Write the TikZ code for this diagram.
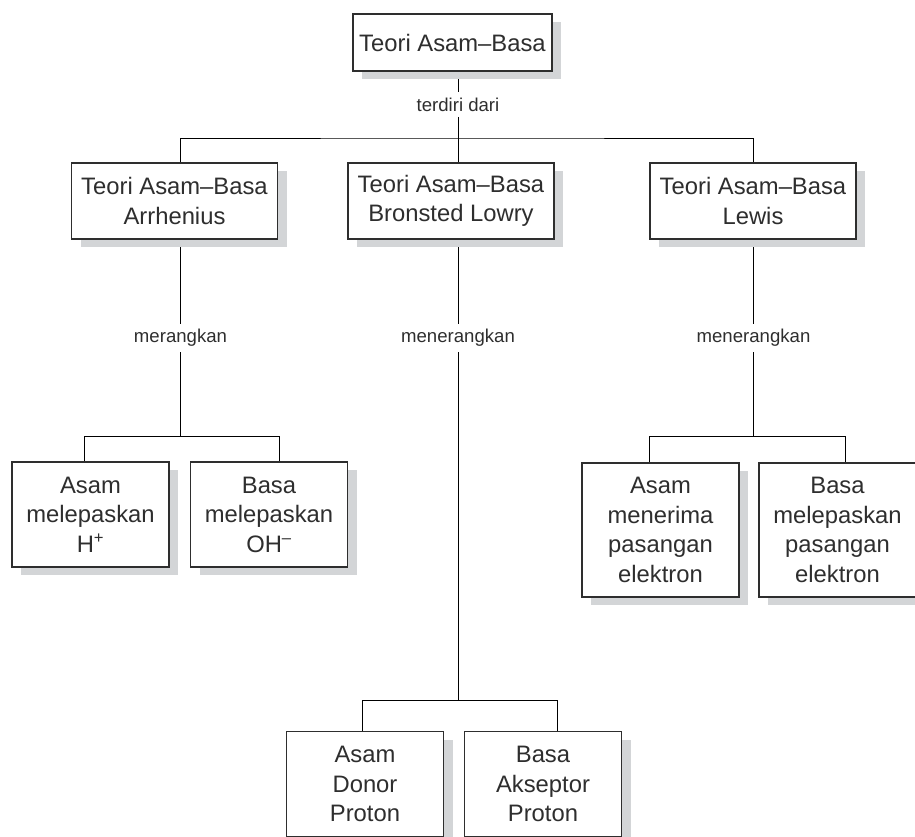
\documentclass[tikz,border=0pt]{standalone}
\usepackage{fontspec}
\setmainfont{Liberation Sans}
\usepackage{tikz}
\usetikzlibrary{shadows,backgrounds}

\definecolor{inkgray}{HTML}{2E2E2E}
\definecolor{shadegray}{HTML}{D3D5D7}
\newcommand\boxfont{\fontsize{23.8}{29.5}\selectfont}
\newcommand\linkfont{\fontsize{18.6}{22}\selectfont}

\begin{document}
\begin{tikzpicture}[x=1pt,y=-1pt,color=inkgray,line width=1.2pt,
    theory/.style={draw, fill=white, align=center, font=\boxfont, inner sep=0pt,
      drop shadow={shadow xshift=9pt, shadow yshift=-8pt, fill=shadegray, opacity=1}},
    topbox/.style={theory, minimum width=199pt, minimum height=57pt},
    midbox/.style={theory, minimum width=206pt, minimum height=76pt},
    leafbox/.style={theory, minimum width=157pt, minimum height=105pt},
    tallbox/.style={theory, minimum width=157pt, minimum height=134pt},
    linkword/.style={font=\linkfont, inner sep=5pt}]
    \useasboundingbox (0,0) rectangle (915,837);

    % ---- Root ----
    \node[topbox] (top) at (452.5,42.5) {Teori Asam--Basa};
    \node[linkword] (lbTop) at (458,104.5) {terdiri dari};
    \coordinate (hubTop) at (458,138);

    % ---- Three theories ----
    \node[midbox] (arr) at (174.5,201) {Teori Asam--Basa\\Arrhenius};
    \node[midbox] (bl) at (451,201) {Teori Asam--Basa\\Bronsted Lowry};
    \node[midbox] (lew) at (753,201) {Teori Asam--Basa\\Lewis};

    \node[linkword] (lbArr) at (180.5,338) {merangkan};
    \node[linkword] (lbBl) at (458,338) {menerangkan};
    \node[linkword] (lbLew) at (753.5,338) {menerangkan};

    % ---- Arrhenius ----
    \node[leafbox] (arrA) at (90.5,514.5) {Asam\\melepaskan\\H\textsuperscript{+}};
    \node[leafbox] (arrB) at (269,514.5) {Basa\\melepaskan\\OH\textsuperscript{--}};
    \coordinate (arrL) at (84,436);
    \coordinate (arrR) at (279,436);

    % ---- Lewis ----
    \node[tallbox] (lewA) at (660.5,530) {Asam\\menerima\\pasangan\\elektron};
    \node[tallbox] (lewB) at (837.5,530) {Basa\\melepaskan\\pasangan\\elektron};
    \coordinate (lewL) at (649,436);
    \coordinate (lewR) at (845,436);

    % ---- Bronsted Lowry ----
    \node[leafbox] (blA) at (365,784) {Asam\\Donor\\Proton};
    \node[leafbox] (blB) at (543,784) {Basa\\Akseptor\\Proton};
    \coordinate (blL) at (362,700);
    \coordinate (blR) at (557,700);

    % ---- Connectors ----
    \begin{scope}[on background layer]
      \draw (top.south -| lbTop) -- (lbTop.north);
      \draw (lbTop.south) -- (hubTop);
      \draw (arr.north -| lbArr) |- (hubTop) -| (lew.north -| lbLew);
      \draw (hubTop) -- (hubTop |- bl.north);

      \draw (arr.south -| lbArr) -- (lbArr.north);
      \draw (lbArr.south) -- (lbArr.south |- arrL);
      \draw (arrA.north -| arrL) -- (arrL) -- (arrR) -- (arrB.north -| arrR);

      \draw (bl.south -| lbBl) -- (lbBl.north);
      \draw (lbBl.south) -- (lbBl.south |- blL);
      \draw (blA.north -| blL) -- (blL) -- (blR) -- (blB.north -| blR);

      \draw (lew.south -| lbLew) -- (lbLew.north);
      \draw (lbLew.south) -- (lbLew.south |- lewL);
      \draw (lewA.north -| lewL) -- (lewL) -- (lewR) -- (lewB.north -| lewR);
    \end{scope}
\end{tikzpicture}
\end{document}
